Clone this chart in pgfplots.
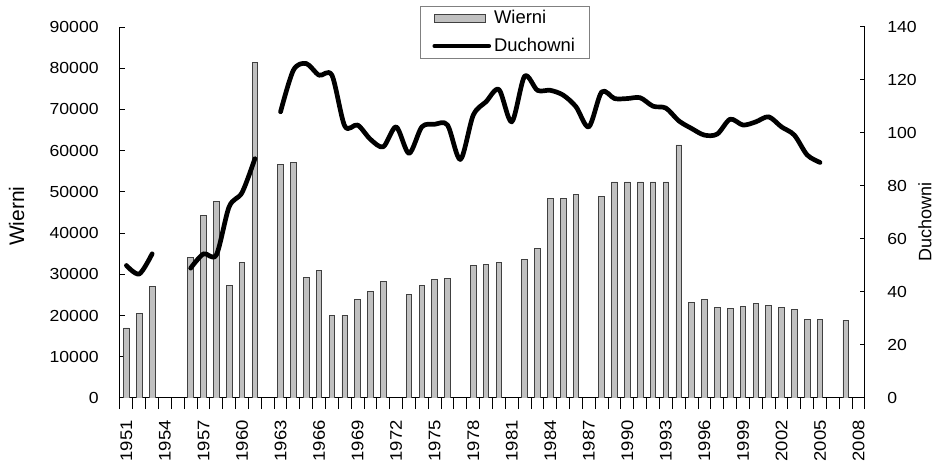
\documentclass[border=0pt]{standalone}
\usepackage{fontspec}
\setmainfont{Liberation Sans}
\newfontfamily\tickfont{Liberation Sans}[FakeStretch=1.1]
\usepackage{pgfplots}
\pgfplotsset{compat=1.18}
\definecolor{barfill}{HTML}{C0C0C0}
\definecolor{bardraw}{HTML}{404040}

\begin{document}
\begin{tikzpicture}
\path[use as bounding box] (-60pt,-33pt) rectangle (411pt,199pt);
\begin{axis}[
  at={(0,0)}, anchor=south west,
  scale only axis, width=372.5pt, height=185.5pt,
  xmin=-0.5, xmax=57.5, ymin=0, ymax=90000,
  axis x line*=bottom, axis y line*=left,
  axis line style={line width=0.5pt, -},
  xtick={0,3,...,57},
  xticklabels={1951,1954,1957,1960,1963,1966,1969,1972,1975,1978,1981,1984,1987,1990,1993,1996,1999,2002,2005,2008},
  minor xtick={-0.5,0.5,...,57.5},
  every major x tick/.style={draw=none},
  xtick align=center, minor tick length=5.6pt,
  ytick={0,10000,...,90000}, ytick align=inside, major tick length=2.5pt,
  tick style={line width=0.5pt, black},
  scaled y ticks=false,
  /pgf/number format/assume math mode=true,
  yticklabel style={/pgf/number format/1000 sep={}},
  ticklabel style={font=\tickfont\fontsize{8}{9}\selectfont, inner sep=0pt},
  xticklabel style={rotate=90, anchor=east, font=\tickfont\fontsize{8.4}{9}\selectfont},
  xticklabel shift=8.5pt,
  yticklabel shift=10.5pt,
  ylabel={Wierni},
  ylabel style={at={(axis description cs:-0.1387,0.49)}, anchor=center, font=\fontsize{10.5}{12}\selectfont},
  ybar, bar width=2.8pt,
]
\addplot[fill=barfill, draw=bardraw, line width=0.4pt] coordinates {
(0,17000) (1,20600) (2,27000) (5,34100) (6,44300) (7,47700) (8,27400) (9,32800)
(10,81400) (12,56600) (13,57200) (14,29300) (15,30900) (16,20100) (17,20100)
(18,24000) (19,25900) (20,28300) (22,25200) (23,27400) (24,28800) (25,29100)
(27,32200) (28,32400) (29,32900) (31,33700) (32,36200) (33,48300) (34,48300)
(35,49300) (37,48800) (38,52400) (39,52400) (40,52400) (41,52400) (42,52400)
(43,61400) (44,23200) (45,24000) (46,22000) (47,21800) (48,22100) (49,23000)
(50,22500) (51,22000) (52,21400) (53,19100) (54,19100) (56,18900)
};
\end{axis}
\begin{axis}[
  at={(0,0)}, anchor=south west,
  scale only axis, width=372.5pt, height=185.5pt,
  xmin=-0.5, xmax=57.5, ymin=0, ymax=140,
  axis x line=none, axis y line*=right,
  axis line style={line width=0.5pt, -},
  ytick={0,20,...,140}, ytick align=inside, major tick length=2.5pt,
  tick style={line width=0.5pt, black},
  /pgf/number format/assume math mode=true,
  ticklabel style={font=\tickfont\fontsize{8}{9}\selectfont, inner sep=0pt},
  yticklabel shift=11pt,
  ylabel={Duchowni},
  ylabel style={at={(axis description cs:1.0805,0.474)}, anchor=center, font=\fontsize{9}{11}\selectfont},
  legend style={at={(axis description cs:0.517,1.0566)}, anchor=north,
    draw=gray, line width=0.5pt, font=\fontsize{9.2}{11}\selectfont,
    inner xsep=6pt, inner ysep=0.5pt, row sep=2.5pt, nodes={inner sep=1.5pt}},
  legend cell align=left,
  legend entries={Wierni,Duchowni},
]
\addlegendimage{legend image code/.code={\draw[fill=barfill, draw=bardraw, line width=0.4pt] (0pt,-2pt) rectangle (25.5pt,2pt);}}
\addplot[black, line width=2.35pt, smooth, line cap=round, line join=round,
  legend image code/.code={\draw[black, line width=2.35pt, line cap=round] (0pt,0pt) -- (27pt,0pt);}]
  coordinates {(0,50.0) (1,46.8) (2,54.4)};
\addplot[black, line width=2.35pt, smooth, line cap=round, line join=round, forget plot]
  coordinates {(5,49.0) (6,54.4) (7,54.0) (8,72.2) (9,77.5) (10,90.3)};
\addplot[black, line width=2.35pt, smooth, line cap=round, line join=round, forget plot]
  coordinates {(12,108.0) (13,123.7) (14,126.2) (15,121.8) (16,121.8) (17,102.6)
  (18,103.0) (19,97.6) (20,94.8) (21,102.3) (22,92.3) (23,102.3) (24,103.3)
  (25,103.0) (26,90.0) (27,106.7) (28,111.8) (29,116.4) (30,104.2) (31,121.4)
  (32,116.1) (33,116.1) (34,114.3) (35,109.9) (36,102.3) (37,115.5) (38,113.0)
  (39,113.0) (40,113.3) (41,110.1) (42,109.4) (43,104.6) (44,101.7) (45,99.2)
  (46,99.6) (47,105.2) (48,103.0) (49,104.2) (50,106.1) (51,102.3) (52,99.2)
  (53,91.7) (54,88.9)};
\end{axis}
\end{tikzpicture}
\end{document}
